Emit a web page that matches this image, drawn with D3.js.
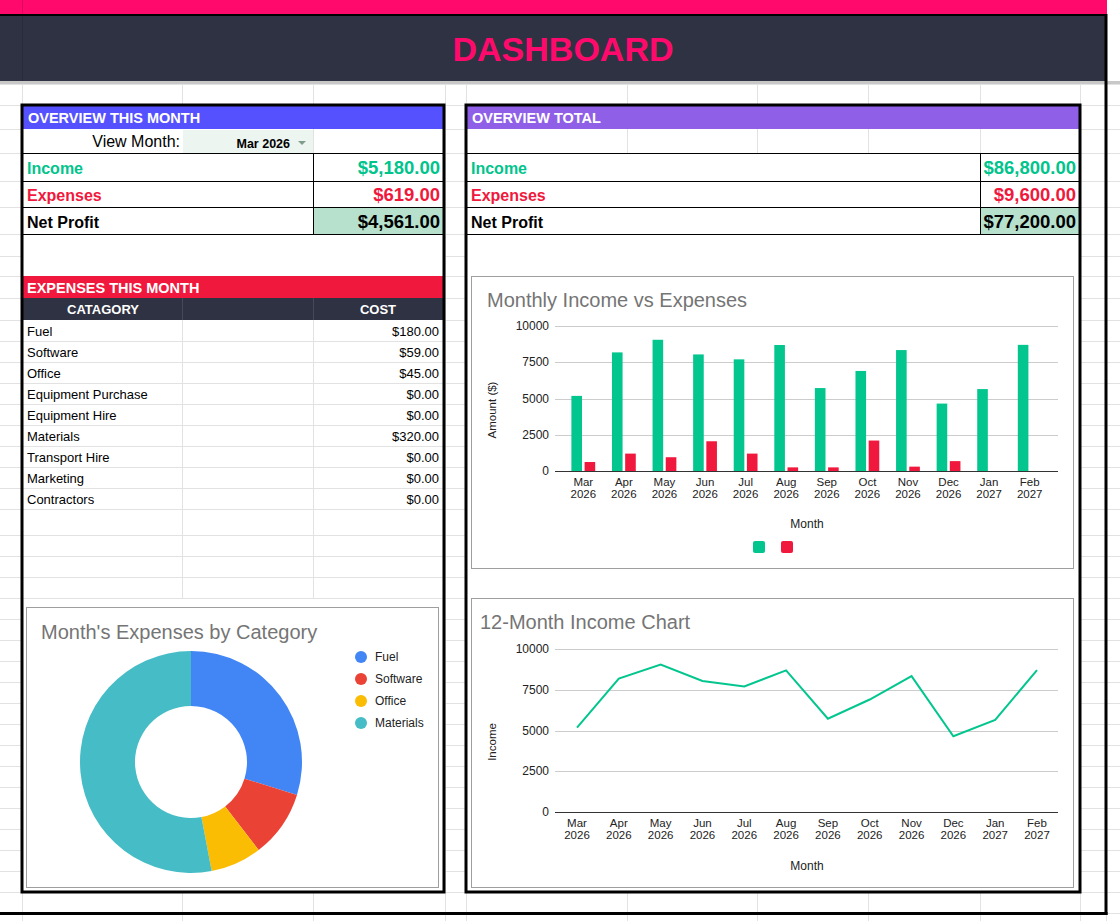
<!DOCTYPE html>
<html>
<head>
<meta charset="utf-8">
<script src="https://cdnjs.cloudflare.com/ajax/libs/d3/7.8.5/d3.min.js"></script>
<style>
  body { margin: 0; background: #fff; }
  svg { display: block; font-family: "Liberation Sans", Arial, sans-serif; }
</style>
</head>
<body>
<svg id="dash" width="1120" height="921"></svg>
<script>
// ---- data ----
var months = ["Mar 2026", "Apr 2026", "May 2026", "Jun 2026", "Jul 2026", "Aug 2026",
              "Sep 2026", "Oct 2026", "Nov 2026", "Dec 2026", "Jan 2027", "Feb 2027"];
var income = [5180, 8180, 9050, 8040, 7700, 8690, 5720, 6900, 8340, 4650, 5650, 8700];
var expenses = [619, 1200, 950, 2050, 1200, 250, 250, 2100, 300, 681, 0, 0];

var categories = ["Fuel", "Software", "Office", "Equipment Purchase", "Equipment Hire",
                  "Materials", "Transport Hire", "Marketing", "Contractors"];
var costs = [180, 59, 45, 0, 0, 320, 0, 0, 0];
var catColors = {Fuel: "#4285f4", Software: "#ea4335", Office: "#fbbc04", Materials: "#46bdc6"};

var yTicks = [0, 2500, 5000, 7500, 10000];
var viewMonth = months[0];

var GREEN = "#00c48c", RED = "#f0183c", DARK = "#2f3243";
var money = d3.format("$,.2f");

var svg = d3.select("#dash");

// ---- spreadsheet grid ----
var colLines = [22, 182, 313, 445, 466, 627, 757, 868, 980, 1080, 1106];
var rowLines = [84, 105, 129, 153, 181, 207, 234, 256, 276, 298, 320, 341, 362, 383, 404,
                425, 446, 467, 488, 509, 535, 556, 577, 598, 619, 640, 661, 682, 703, 724,
                745, 766, 787, 808, 829, 850, 871, 892, 913];
var grid = svg.append("g").attr("stroke", "#e2e2e2").attr("stroke-width", 1);
grid.selectAll("line.v").data(colLines).join("line")
  .attr("x1", function(d){ return d + 0.5; }).attr("x2", function(d){ return d + 0.5; })
  .attr("y1", 84).attr("y2", 921);
grid.selectAll("line.h").data(rowLines).join("line")
  .attr("x1", 0).attr("x2", 1120)
  .attr("y1", function(d){ return d + 0.5; }).attr("y2", function(d){ return d + 0.5; });

// ---- header ----
svg.append("rect").attr("x", 0).attr("y", 0).attr("width", 1107).attr("height", 14).attr("fill", "#ff0a6c");
svg.append("rect").attr("x", 0).attr("y", 14).attr("width", 1107).attr("height", 67).attr("fill", DARK);
svg.append("rect").attr("x", 0).attr("y", 14).attr("width", 1107).attr("height", 2).attr("fill", "#000");
svg.append("line").attr("x1", 22.5).attr("x2", 22.5).attr("y1", 0).attr("y2", 81).attr("stroke", "#000").attr("stroke-opacity", 0.12);
svg.append("rect").attr("x", 0).attr("y", 81).attr("width", 1120).attr("height", 3).attr("fill", "#c8c8c8");
svg.append("text").attr("x", 563).attr("y", 61).attr("text-anchor", "middle")
  .attr("font-size", 34).attr("font-weight", "bold").attr("fill", "#ff0a6c").text("DASHBOARD");

// outer frame lines
svg.append("line").attr("x1", 1106).attr("x2", 1106).attr("y1", 14).attr("y2", 915)
  .attr("stroke", "#000").attr("stroke-width", 3);
svg.append("line").attr("x1", 0).attr("x2", 1107.5).attr("y1", 913.5).attr("y2", 913.5)
  .attr("stroke", "#000").attr("stroke-width", 3);

// ---- panels ----
function panel(x0, x1, title, color, valCol) {
  var g = svg.append("g");
  g.append("rect").attr("x", x0).attr("y", 105).attr("width", x1 - x0).attr("height", 787).attr("fill", "#fff");
  g.append("rect").attr("x", x0).attr("y", 105).attr("width", x1 - x0).attr("height", 24).attr("fill", color);
  g.append("text").attr("x", x0 + 6).attr("y", 123).attr("fill", "#fff")
    .attr("font-size", 14.5).attr("font-weight", "bold").text(title);
  // summary rows
  g.append("rect").attr("x", valCol).attr("y", 207).attr("width", x1 - valCol).attr("height", 27).attr("fill", "#b7e1cd");
  [153, 181, 207, 234].forEach(function(y){
    g.append("line").attr("x1", x0).attr("x2", x1).attr("y1", y + 0.5).attr("y2", y + 0.5).attr("stroke", "#000");
  });
  g.append("line").attr("x1", valCol + 0.5).attr("x2", valCol + 0.5).attr("y1", 153).attr("y2", 234).attr("stroke", "#000");
  return g;
}

function summary(g, x0, x1, inc, exp) {
  var rows = [
    {label: "Income", value: inc, color: GREEN, y: 174},
    {label: "Expenses", value: exp, color: RED, y: 201},
    {label: "Net Profit", value: inc - exp, color: "#000", y: 228}
  ];
  g.selectAll("text.lbl").data(rows).join("text")
    .attr("x", x0 + 5).attr("y", function(d){ return d.y; })
    .attr("font-size", 16).attr("font-weight", "bold").attr("fill", function(d){ return d.color; })
    .text(function(d){ return d.label; });
  g.selectAll("text.val").data(rows).join("text")
    .attr("x", x1 - 4).attr("y", function(d){ return d.y; }).attr("text-anchor", "end")
    .attr("font-size", 18.5).attr("font-weight", "bold").attr("fill", function(d){ return d.color; })
    .text(function(d){ return money(d.value); });
}

// left panel
var left = panel(22, 444, "OVERVIEW THIS MONTH", "#5551ff", 313);
left.append("text").attr("x", 180).attr("y", 147).attr("text-anchor", "end")
  .attr("font-size", 16).attr("fill", "#000").text("View Month:");
left.append("rect").attr("x", 183).attr("y", 130).attr("width", 130).attr("height", 23).attr("fill", "#edf5f1");
left.append("text").attr("x", 290).attr("y", 148).attr("text-anchor", "end")
  .attr("font-size", 12.5).attr("font-weight", "bold").attr("fill", "#000").text(viewMonth);
left.append("path").attr("d", "M298,141 L306,141 L302,145 Z").attr("fill", "#7f9c8c");
left.append("line").attr("x1", 313.5).attr("x2", 313.5).attr("y1", 129).attr("y2", 153).attr("stroke", "#e2e2e2");

var monthExp = expenses[months.indexOf(viewMonth)];
summary(left, 22, 444, income[months.indexOf(viewMonth)], monthExp);

// expenses table
left.append("rect").attr("x", 22).attr("y", 276).attr("width", 422).attr("height", 22).attr("fill", RED);
left.append("text").attr("x", 27).attr("y", 293).attr("fill", "#fff")
  .attr("font-size", 14.5).attr("font-weight", "bold").text("EXPENSES THIS MONTH");
left.append("rect").attr("x", 22).attr("y", 298).attr("width", 422).attr("height", 22).attr("fill", DARK);
[182, 313].forEach(function(x){
  left.append("line").attr("x1", x + 0.5).attr("x2", x + 0.5).attr("y1", 298).attr("y2", 320).attr("stroke", "#454859");
});
left.append("text").attr("x", 103).attr("y", 314).attr("text-anchor", "middle").attr("fill", "#fff")
  .attr("font-size", 13).attr("font-weight", "bold").text("CATAGORY");
left.append("text").attr("x", 378).attr("y", 314).attr("text-anchor", "middle").attr("fill", "#fff")
  .attr("font-size", 13).attr("font-weight", "bold").text("COST");

var tRows = [341, 362, 383, 404, 425, 446, 467, 488, 509, 535, 556, 577, 598];
left.selectAll("line.tr").data(tRows).join("line")
  .attr("x1", 22).attr("x2", 444).attr("y1", function(d){ return d + 0.5; }).attr("y2", function(d){ return d + 0.5; })
  .attr("stroke", "#e2e2e2");
[182, 313].forEach(function(x){
  left.append("line").attr("x1", x + 0.5).attr("x2", x + 0.5).attr("y1", 320).attr("y2", 598).attr("stroke", "#e2e2e2");
});
var expRows = categories.map(function(c, i){ return {cat: c, cost: costs[i], y: 336 + i * 21}; });
left.selectAll("text.cat").data(expRows).join("text")
  .attr("x", 27).attr("y", function(d){ return d.y; }).attr("font-size", 13).attr("fill", "#000")
  .text(function(d){ return d.cat; });
left.selectAll("text.cost").data(expRows).join("text")
  .attr("x", 439).attr("y", function(d){ return d.y; }).attr("text-anchor", "end").attr("font-size", 13).attr("fill", "#000")
  .text(function(d){ return money(d.cost); });

// right panel
var right = panel(466, 1080, "OVERVIEW TOTAL", "#8f5fe8", 980);
[627, 757, 868, 980].forEach(function(x){
  right.append("line").attr("x1", x + 0.5).attr("x2", x + 0.5).attr("y1", 129).attr("y2", 153).attr("stroke", "#e2e2e2");
});
summary(right, 466, 1080, d3.sum(income), d3.sum(expenses));

// panel borders on top
[[22, 444], [466, 1080]].forEach(function(p){
  svg.append("rect").attr("x", p[0]).attr("y", 105).attr("width", p[1] - p[0]).attr("height", 787)
    .attr("fill", "none").attr("stroke", "#000").attr("stroke-width", 3);
});

// ---- chart boxes ----
function chartBox(x, y, w, h, title, tx, ty) {
  var g = svg.append("g");
  g.append("rect").attr("x", x + 0.5).attr("y", y + 0.5).attr("width", w).attr("height", h)
    .attr("fill", "#fff").attr("stroke", "#9e9e9e");
  g.append("text").attr("x", tx).attr("y", ty).attr("font-size", 20).attr("fill", "#757575").text(title);
  return g;
}

function monthAxis(g, x, y0, gridX0, gridX1, yScale) {
  // y grid + labels
  g.selectAll("line.grid").data(yTicks).join("line")
    .attr("x1", gridX0).attr("x2", gridX1)
    .attr("y1", function(d){ return Math.round(yScale(d)) + 0.5; })
    .attr("y2", function(d){ return Math.round(yScale(d)) + 0.5; })
    .attr("stroke", function(d){ return d === 0 ? "#333" : "#cccccc"; });
  g.selectAll("text.ytick").data(yTicks).join("text")
    .attr("x", gridX0 - 6).attr("y", function(d){ return yScale(d); }).attr("dy", "0.35em")
    .attr("text-anchor", "end").attr("font-size", 12).attr("fill", "#222")
    .text(function(d){ return d; });
  // month labels on two lines
  var lab = g.selectAll("text.xtick").data(months).join("text")
    .attr("text-anchor", "middle").attr("font-size", 11.5).attr("fill", "#222")
    .attr("transform", function(d){ return "translate(" + x(d) + "," + (y0 + 15) + ")"; });
  lab.append("tspan").attr("x", 0).attr("y", 0).text(function(d){ return d.split(" ")[0]; });
  lab.append("tspan").attr("x", 0).attr("y", 12).text(function(d){ return d.split(" ")[1]; });
}

// bar chart: monthly income vs expenses
var bar = chartBox(471, 276, 602, 292, "Monthly Income vs Expenses", 487, 307);
var xb = d3.scaleBand().domain(months).range([563, 1050]);
var yb = d3.scaleLinear().domain([0, 10000]).range([471, 326]);
var bw = 10.6, gap = 2.6;
function cx(d){ return xb(d) + xb.bandwidth() / 2; }
monthAxis(bar, cx, 471, 555, 1058, yb);
bar.selectAll("rect.inc").data(months).join("rect")
  .attr("x", function(d){ return cx(d) - gap / 2 - bw; })
  .attr("y", function(d, i){ return yb(income[i]); })
  .attr("width", bw).attr("height", function(d, i){ return yb(0) - yb(income[i]); })
  .attr("fill", "#03c68f");
bar.selectAll("rect.exp").data(months).join("rect")
  .attr("x", function(d){ return cx(d) + gap / 2; })
  .attr("y", function(d, i){ return yb(expenses[i]); })
  .attr("width", bw).attr("height", function(d, i){ return yb(0) - yb(expenses[i]); })
  .attr("fill", RED);
bar.append("line").attr("x1", 555).attr("x2", 1058).attr("y1", 471.5).attr("y2", 471.5).attr("stroke", "#333");
bar.append("text").attr("transform", "translate(496,410) rotate(-90)").attr("text-anchor", "middle")
  .attr("font-size", 11.5).attr("fill", "#222").text("Amount ($)");
bar.append("text").attr("x", 807).attr("y", 528).attr("text-anchor", "middle")
  .attr("font-size", 12).attr("fill", "#222").text("Month");
bar.selectAll("rect.leg").data(["#03c68f", RED]).join("rect")
  .attr("x", function(d, i){ return 753 + i * 28; }).attr("y", 541)
  .attr("width", 12).attr("height", 12).attr("rx", 2).attr("fill", function(d){ return d; });

// line chart: 12-month income
var lc = chartBox(471, 598, 602, 289, "12-Month Income Chart", 480, 629);
var xl = d3.scalePoint().domain(months).range([577, 1037]);
var yl = d3.scaleLinear().domain([0, 10000]).range([812, 649]);
monthAxis(lc, xl, 812, 555, 1058, yl);
lc.append("path").datum(income)
  .attr("d", d3.line().x(function(d, i){ return xl(months[i]); }).y(function(d){ return yl(d); }))
  .attr("fill", "none").attr("stroke", "#03c68f").attr("stroke-width", 2);
lc.append("text").attr("transform", "translate(496,742) rotate(-90)").attr("text-anchor", "middle")
  .attr("font-size", 11.5).attr("fill", "#222").text("Income");
lc.append("text").attr("x", 807).attr("y", 870).attr("text-anchor", "middle")
  .attr("font-size", 12).attr("fill", "#222").text("Month");

// donut: month's expenses by category
var dn = chartBox(26, 607, 412, 280, "Month's Expenses by Category", 41, 639);
var slices = expRows.filter(function(d){ return d.cost > 0; });
var pie = d3.pie().sort(null).value(function(d){ return d.cost; });
var arc = d3.arc().innerRadius(56).outerRadius(111);
dn.append("g").attr("transform", "translate(191,762)")
  .selectAll("path").data(pie(slices)).join("path")
  .attr("d", arc).attr("fill", function(d){ return catColors[d.data.cat]; });
var leg = dn.selectAll("g.leg").data(slices).join("g")
  .attr("transform", function(d, i){ return "translate(361," + (657 + i * 22) + ")"; });
leg.append("circle").attr("r", 6).attr("fill", function(d){ return catColors[d.cat]; });
leg.append("text").attr("x", 14).attr("dy", "0.35em").attr("font-size", 12).attr("fill", "#222")
  .text(function(d){ return d.cat; });
</script>
</body>
</html>
